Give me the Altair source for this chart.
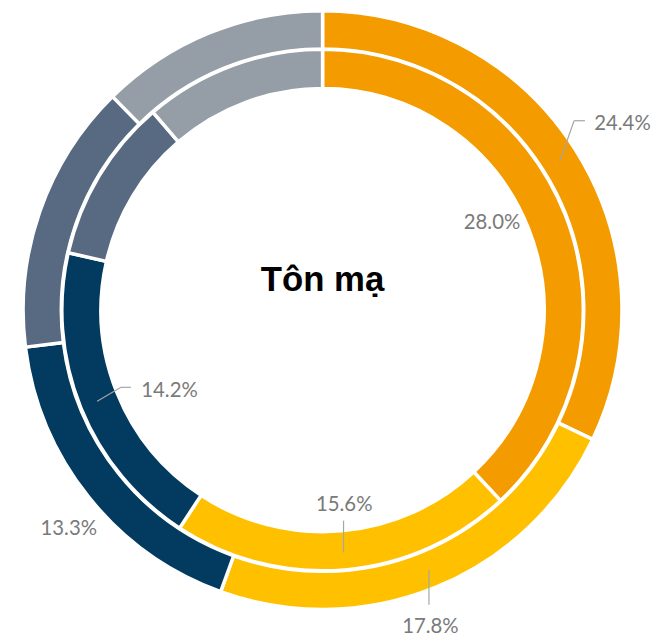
import altair as alt
import pandas as pd

# ---- data -------------------------------------------------------------
categories = ["Nhóm 1", "Nhóm 2", "Nhóm 3", "Nhóm 4", "Nhóm 5"]
outer_values = [24.4, 17.8, 13.3, 11.1, 9.4]
inner_values = [28.0, 15.6, 14.2, 7.5, 8.3]
labelled = [True, True, True, False, False]
colors = ["#F49B00", "#FFC000", "#023B5F", "#586A82", "#959DA7"]
title_text = "Tôn mạ"

rows = []
for ring, vals in (("outer", outer_values), ("inner", inner_values)):
    for i, (c, v) in enumerate(zip(categories, vals)):
        rows.append({"ring": ring, "category": c, "order": i, "value": v,
                     "label": f"{v:.1f}%" if labelled[i] else ""})
df = pd.DataFrame(rows)

# ---- layout / scales --------------------------------------------------
W, H = 634, 604
theta_scale = alt.Scale(domain=[0, 1])
xs = alt.Scale(domain=[-W / 2, W / 2], nice=False, zero=False)
ys = alt.Scale(domain=[-H / 2, H / 2], nice=False, zero=False)
color = alt.Color("category:N", scale=alt.Scale(domain=categories, range=colors), legend=None)

base = (
    alt.Chart(df)
    .transform_joinaggregate(total="sum(value)", groupby=["ring"])
    .transform_calculate(frac="datum.value / datum.total")
    .transform_window(cum="sum(frac)", groupby=["ring"], sort=[alt.SortField("order")])
    .transform_calculate(start="datum.cum - datum.frac", mid="datum.cum - datum.frac / 2")
)

layers = []

# rings
ring_radii = {"outer": (301.75, 263.25), "inner": (262.75, 223.25)}
for ring, (r1, r2) in ring_radii.items():
    layers.append(
        base.transform_filter(alt.datum.ring == ring)
        .mark_arc(radius=r1, radius2=r2, stroke="white", strokeWidth=3.5)
        .encode(theta=alt.Theta("start:Q", scale=theta_scale), theta2="cum:Q", color=color)
    )

# leader lines: (ring, order, start radius, start offset, successive deltas in px)
leaders = [
    ("outer", 0, 283, (0, 0), [(14, -40), (11, 0)]),
    ("outer", 1, 283, (0, 0), [(0, 35)]),
    ("inner", 1, 213, (3, 0), [(0, 32)]),
    ("inner", 2, 245, (0, 0), [(24, -14), (10, 0)]),
]
for ring, order, rs, (ox, oy), deltas in leaders:
    ax, ay = ox, oy
    for ddx, ddy in deltas:
        bx, by = ax + ddx, ay + ddy
        layers.append(
            base.transform_filter((alt.datum.ring == ring) & (alt.datum.order == order))
            .transform_calculate(
                lx1=f"{rs}*sin(datum.mid*2*PI) + ({ax})",
                ly1=f"{rs}*cos(datum.mid*2*PI) - ({ay})",
                lx2=f"{rs}*sin(datum.mid*2*PI) + ({bx})",
                ly2=f"{rs}*cos(datum.mid*2*PI) - ({by})",
            )
            .mark_rule(color="#A6A6A6", strokeWidth=1.2)
            .encode(
                x=alt.X("lx1:Q", scale=xs, axis=None),
                y=alt.Y("ly1:Q", scale=ys, axis=None),
                x2="lx2:Q",
                y2="ly2:Q",
            )
        )
        ax, ay = bx, by

# data labels: radius, dx, dy
label_style = {
    ("outer", 0): (356, 1, 2),
    ("outer", 1): (337, -19, 8),
    ("outer", 2): (335, 6, 12),
    ("inner", 0): (190, -6, -18),
    ("inner", 1): (197, 5, 0),
    ("inner", 2): (175, 8, 16),
}
for (ring, order), (r, dx, dy) in label_style.items():
    layers.append(
        base.transform_filter((alt.datum.ring == ring) & (alt.datum.order == order))
        .mark_text(radius=r, dx=dx, dy=dy, font="Lato", fontSize=20.5, color="#7A7A7A",
                   align="center", baseline="middle")
        .encode(theta=alt.Theta("mid:Q", scale=theta_scale), text="label:N")
    )

# centre title
title = (
    alt.Chart(pd.DataFrame({"t": [title_text]}))
    .transform_calculate(cx="0", cy="0")
    .mark_text(font="Liberation Sans", fontWeight="bold", fontSize=35, color="black",
               align="center", baseline="alphabetic", dy=-19)
    .encode(x=alt.X("cx:Q", scale=xs, axis=None), y=alt.Y("cy:Q", scale=ys, axis=None), text="t:N")
)
layers.append(title)

chart = (
    alt.layer(*layers)
    .properties(
        width=W,
        height=H,
        autosize=alt.AutoSizeParams(type="none"),
        padding={"left": 0, "top": 0, "right": 16, "bottom": 28},
    )
    .configure_view(stroke=None)
)

chart.save("out.html", embed_options={"renderer": "svg", "actions": False})
